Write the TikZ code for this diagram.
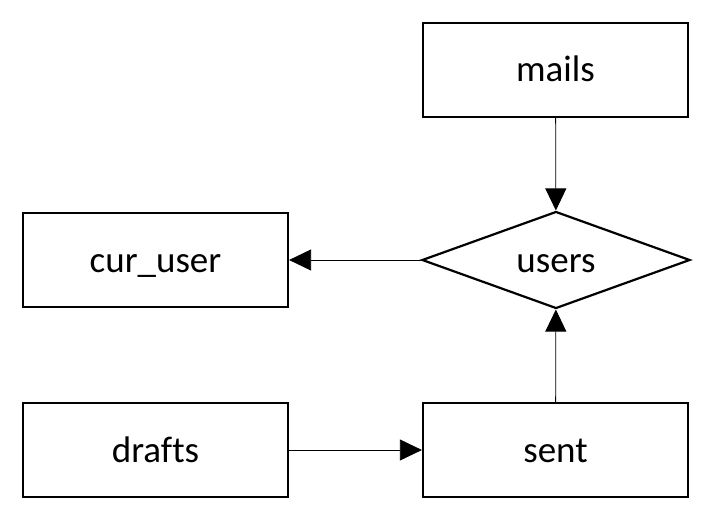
\documentclass[tikz,border=0pt]{standalone}
\usepackage{fontspec}
\setmainfont{Carlito}[Ligatures=NoCommon]
\usetikzlibrary{shapes.geometric,arrows.meta}

\begin{document}
\begin{tikzpicture}[x=1pt,y=-1pt,
    tbl/.style={draw, line width=2.2pt, minimum width=265pt, minimum height=94pt, inner sep=0pt, text height=24pt, text depth=0pt, font=\fontsize{37}{44}\selectfont},
    rel/.style={draw, diamond, shape aspect=2.76, line width=2.2pt, minimum width=268pt, minimum height=97pt, inner sep=0pt, text height=24pt, text depth=0pt, font=\fontsize{37}{44}\selectfont},
    link/.style={line width=0.8pt, -{Triangle[length=22pt,width=21pt]}}]
          \useasboundingbox (0,0) rectangle (711,521);
          \node[tbl] (mails) at (555.5,70) {mails};
          \node[rel] (users) at (556,260) {users};
          \node[tbl] (curuser) at (155.5,260) {cur\_user};
          \node[tbl] (drafts) at (155.5,450) {drafts};
          \node[tbl] (sent) at (555.5,450) {sent};
          \draw[link] (mails) -- (users);
          \draw[link] (users) -- (curuser);
          \draw[link] (sent) -- (users);
          \draw[link] (drafts) -- (sent);% to the sent table
        \end{tikzpicture}
\end{document}
